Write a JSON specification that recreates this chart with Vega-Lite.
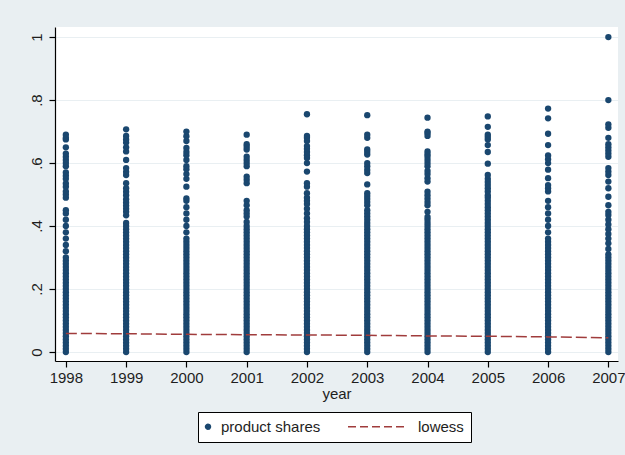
{
  "$schema": "https://vega.github.io/schema/vega-lite/v6.json",
  "width": 563,
  "height": 334,
  "autosize": {"type": "none"},
  "padding": {"left": 55, "top": 27, "right": 7, "bottom": 94},
  "background": "#e9eff2",
  "config": {
    "view": {"fill": "white", "stroke": null},
    "font": "Liberation Sans",
    "axis": {
      "domainColor": "#000000",
      "domainWidth": 1.2,
      "tickColor": "#000000",
      "tickWidth": 1.2,
      "tickSize": 6,
      "labelFont": "Liberation Sans",
      "labelFontSize": 15,
      "labelColor": "#1e1e1e",
      "titleFont": "Liberation Sans",
      "titleFontSize": 15,
      "titleFontWeight": "normal",
      "titleColor": "#1e1e1e"
    }
  },
  "datasets": {
    "shares": [
      {"year":1998,"share":0},{"year":1998,"share":0.01},{"year":1998,"share":0.02},{"year":1998,"share":0.03},{"year":1998,"share":0.04},{"year":1998,"share":0.05},{"year":1998,"share":0.06},{"year":1998,"share":0.07},{"year":1998,"share":0.08},{"year":1998,"share":0.09},{"year":1998,"share":0.1},{"year":1998,"share":0.11},{"year":1998,"share":0.12},{"year":1998,"share":0.13},{"year":1998,"share":0.14},{"year":1998,"share":0.15},{"year":1998,"share":0.16},{"year":1998,"share":0.17},{"year":1998,"share":0.18},{"year":1998,"share":0.19},{"year":1998,"share":0.2},{"year":1998,"share":0.21},{"year":1998,"share":0.22},{"year":1998,"share":0.23},{"year":1998,"share":0.24},{"year":1998,"share":0.25},{"year":1998,"share":0.26},{"year":1998,"share":0.27},{"year":1998,"share":0.28},{"year":1998,"share":0.29},{"year":1998,"share":0.3},
      {"year":1998,"share":0.32},{"year":1998,"share":0.34},{"year":1998,"share":0.36},{"year":1998,"share":0.38},{"year":1998,"share":0.4},{"year":1998,"share":0.42},{"year":1998,"share":0.44},{"year":1998,"share":0.45},
      {"year":1998,"share":0.49},{"year":1998,"share":0.5},{"year":1998,"share":0.51},{"year":1998,"share":0.525},{"year":1998,"share":0.535},{"year":1998,"share":0.55},{"year":1998,"share":0.56},{"year":1998,"share":0.57},{"year":1998,"share":0.59},{"year":1998,"share":0.6},{"year":1998,"share":0.61},{"year":1998,"share":0.62},{"year":1998,"share":0.63},{"year":1998,"share":0.65},{"year":1998,"share":0.675},{"year":1998,"share":0.68},{"year":1998,"share":0.69},

      {"year":1999,"share":0},{"year":1999,"share":0.01},{"year":1999,"share":0.02},{"year":1999,"share":0.03},{"year":1999,"share":0.04},{"year":1999,"share":0.05},{"year":1999,"share":0.06},{"year":1999,"share":0.07},{"year":1999,"share":0.08},{"year":1999,"share":0.09},{"year":1999,"share":0.1},{"year":1999,"share":0.11},{"year":1999,"share":0.12},{"year":1999,"share":0.13},{"year":1999,"share":0.14},{"year":1999,"share":0.15},{"year":1999,"share":0.16},{"year":1999,"share":0.17},{"year":1999,"share":0.18},{"year":1999,"share":0.19},{"year":1999,"share":0.2},{"year":1999,"share":0.21},{"year":1999,"share":0.22},{"year":1999,"share":0.23},{"year":1999,"share":0.24},{"year":1999,"share":0.25},{"year":1999,"share":0.26},{"year":1999,"share":0.27},{"year":1999,"share":0.28},{"year":1999,"share":0.29},{"year":1999,"share":0.3},{"year":1999,"share":0.31},{"year":1999,"share":0.32},{"year":1999,"share":0.33},{"year":1999,"share":0.34},{"year":1999,"share":0.35},{"year":1999,"share":0.36},{"year":1999,"share":0.37},{"year":1999,"share":0.38},{"year":1999,"share":0.39},{"year":1999,"share":0.4},
      {"year":1999,"share":0.41},{"year":1999,"share":0.434},{"year":1999,"share":0.445},{"year":1999,"share":0.455},{"year":1999,"share":0.465},{"year":1999,"share":0.475},{"year":1999,"share":0.485},{"year":1999,"share":0.498},{"year":1999,"share":0.509},{"year":1999,"share":0.52},{"year":1999,"share":0.536},{"year":1999,"share":0.562},{"year":1999,"share":0.572},{"year":1999,"share":0.584},{"year":1999,"share":0.61},{"year":1999,"share":0.637},{"year":1999,"share":0.65},{"year":1999,"share":0.665},{"year":1999,"share":0.675},{"year":1999,"share":0.686},{"year":1999,"share":0.707},

      {"year":2000,"share":0},{"year":2000,"share":0.01},{"year":2000,"share":0.02},{"year":2000,"share":0.03},{"year":2000,"share":0.04},{"year":2000,"share":0.05},{"year":2000,"share":0.06},{"year":2000,"share":0.07},{"year":2000,"share":0.08},{"year":2000,"share":0.09},{"year":2000,"share":0.1},{"year":2000,"share":0.11},{"year":2000,"share":0.12},{"year":2000,"share":0.13},{"year":2000,"share":0.14},{"year":2000,"share":0.15},{"year":2000,"share":0.16},{"year":2000,"share":0.17},{"year":2000,"share":0.18},{"year":2000,"share":0.19},{"year":2000,"share":0.2},{"year":2000,"share":0.21},{"year":2000,"share":0.22},{"year":2000,"share":0.23},{"year":2000,"share":0.24},{"year":2000,"share":0.25},{"year":2000,"share":0.26},{"year":2000,"share":0.27},{"year":2000,"share":0.28},{"year":2000,"share":0.29},{"year":2000,"share":0.3},{"year":2000,"share":0.31},{"year":2000,"share":0.32},{"year":2000,"share":0.33},{"year":2000,"share":0.34},{"year":2000,"share":0.35},{"year":2000,"share":0.36},
      {"year":2000,"share":0.38},{"year":2000,"share":0.4},{"year":2000,"share":0.42},{"year":2000,"share":0.44},{"year":2000,"share":0.46},{"year":2000,"share":0.48},
      {"year":2000,"share":0.488},{"year":2000,"share":0.525},{"year":2000,"share":0.55},{"year":2000,"share":0.565},{"year":2000,"share":0.58},{"year":2000,"share":0.59},{"year":2000,"share":0.61},{"year":2000,"share":0.625},{"year":2000,"share":0.635},{"year":2000,"share":0.648},{"year":2000,"share":0.67},{"year":2000,"share":0.685},{"year":2000,"share":0.7},

      {"year":2001,"share":0},{"year":2001,"share":0.01},{"year":2001,"share":0.02},{"year":2001,"share":0.03},{"year":2001,"share":0.04},{"year":2001,"share":0.05},{"year":2001,"share":0.06},{"year":2001,"share":0.07},{"year":2001,"share":0.08},{"year":2001,"share":0.09},{"year":2001,"share":0.1},{"year":2001,"share":0.11},{"year":2001,"share":0.12},{"year":2001,"share":0.13},{"year":2001,"share":0.14},{"year":2001,"share":0.15},{"year":2001,"share":0.16},{"year":2001,"share":0.17},{"year":2001,"share":0.18},{"year":2001,"share":0.19},{"year":2001,"share":0.2},{"year":2001,"share":0.21},{"year":2001,"share":0.22},{"year":2001,"share":0.23},{"year":2001,"share":0.24},{"year":2001,"share":0.25},{"year":2001,"share":0.26},{"year":2001,"share":0.27},{"year":2001,"share":0.28},{"year":2001,"share":0.29},{"year":2001,"share":0.3},{"year":2001,"share":0.31},{"year":2001,"share":0.32},{"year":2001,"share":0.33},{"year":2001,"share":0.34},{"year":2001,"share":0.35},{"year":2001,"share":0.36},{"year":2001,"share":0.37},{"year":2001,"share":0.38},{"year":2001,"share":0.39},{"year":2001,"share":0.4},
      {"year":2001,"share":0.413},{"year":2001,"share":0.43},{"year":2001,"share":0.44},{"year":2001,"share":0.45},{"year":2001,"share":0.466},{"year":2001,"share":0.48},{"year":2001,"share":0.536},{"year":2001,"share":0.547},{"year":2001,"share":0.557},{"year":2001,"share":0.59},{"year":2001,"share":0.6},{"year":2001,"share":0.61},{"year":2001,"share":0.62},{"year":2001,"share":0.643},{"year":2001,"share":0.652},{"year":2001,"share":0.66},{"year":2001,"share":0.69},

      {"year":2002,"share":0},{"year":2002,"share":0.01},{"year":2002,"share":0.02},{"year":2002,"share":0.03},{"year":2002,"share":0.04},{"year":2002,"share":0.05},{"year":2002,"share":0.06},{"year":2002,"share":0.07},{"year":2002,"share":0.08},{"year":2002,"share":0.09},{"year":2002,"share":0.1},{"year":2002,"share":0.11},{"year":2002,"share":0.12},{"year":2002,"share":0.13},{"year":2002,"share":0.14},{"year":2002,"share":0.15},{"year":2002,"share":0.16},{"year":2002,"share":0.17},{"year":2002,"share":0.18},{"year":2002,"share":0.19},{"year":2002,"share":0.2},{"year":2002,"share":0.21},{"year":2002,"share":0.22},{"year":2002,"share":0.23},{"year":2002,"share":0.24},{"year":2002,"share":0.25},{"year":2002,"share":0.26},{"year":2002,"share":0.27},{"year":2002,"share":0.28},{"year":2002,"share":0.29},{"year":2002,"share":0.3},{"year":2002,"share":0.31},{"year":2002,"share":0.32},{"year":2002,"share":0.33},{"year":2002,"share":0.34},{"year":2002,"share":0.35},{"year":2002,"share":0.36},{"year":2002,"share":0.37},{"year":2002,"share":0.38},{"year":2002,"share":0.39},{"year":2002,"share":0.4},
      {"year":2002,"share":0.413},{"year":2002,"share":0.425},{"year":2002,"share":0.44},{"year":2002,"share":0.455},{"year":2002,"share":0.47},{"year":2002,"share":0.48},{"year":2002,"share":0.49},{"year":2002,"share":0.504},
      {"year":2002,"share":0.525},{"year":2002,"share":0.536},{"year":2002,"share":0.573},{"year":2002,"share":0.6},{"year":2002,"share":0.616},{"year":2002,"share":0.625},{"year":2002,"share":0.635},{"year":2002,"share":0.645},{"year":2002,"share":0.654},{"year":2002,"share":0.67},{"year":2002,"share":0.68},{"year":2002,"share":0.686},{"year":2002,"share":0.755},

      {"year":2003,"share":0},{"year":2003,"share":0.01},{"year":2003,"share":0.02},{"year":2003,"share":0.03},{"year":2003,"share":0.04},{"year":2003,"share":0.05},{"year":2003,"share":0.06},{"year":2003,"share":0.07},{"year":2003,"share":0.08},{"year":2003,"share":0.09},{"year":2003,"share":0.1},{"year":2003,"share":0.11},{"year":2003,"share":0.12},{"year":2003,"share":0.13},{"year":2003,"share":0.14},{"year":2003,"share":0.15},{"year":2003,"share":0.16},{"year":2003,"share":0.17},{"year":2003,"share":0.18},{"year":2003,"share":0.19},{"year":2003,"share":0.2},{"year":2003,"share":0.21},{"year":2003,"share":0.22},{"year":2003,"share":0.23},{"year":2003,"share":0.24},{"year":2003,"share":0.25},{"year":2003,"share":0.26},{"year":2003,"share":0.27},{"year":2003,"share":0.28},{"year":2003,"share":0.29},{"year":2003,"share":0.3},{"year":2003,"share":0.31},{"year":2003,"share":0.32},{"year":2003,"share":0.33},{"year":2003,"share":0.34},{"year":2003,"share":0.35},{"year":2003,"share":0.36},{"year":2003,"share":0.37},{"year":2003,"share":0.38},{"year":2003,"share":0.39},{"year":2003,"share":0.4},{"year":2003,"share":0.41},{"year":2003,"share":0.42},{"year":2003,"share":0.43},{"year":2003,"share":0.44},
      {"year":2003,"share":0.45},{"year":2003,"share":0.466},{"year":2003,"share":0.476},{"year":2003,"share":0.486},{"year":2003,"share":0.495},{"year":2003,"share":0.504},{"year":2003,"share":0.532},{"year":2003,"share":0.568},{"year":2003,"share":0.578},{"year":2003,"share":0.59},{"year":2003,"share":0.6},{"year":2003,"share":0.627},{"year":2003,"share":0.635},{"year":2003,"share":0.643},{"year":2003,"share":0.68},{"year":2003,"share":0.69},{"year":2003,"share":0.752},

      {"year":2004,"share":0},{"year":2004,"share":0.01},{"year":2004,"share":0.02},{"year":2004,"share":0.03},{"year":2004,"share":0.04},{"year":2004,"share":0.05},{"year":2004,"share":0.06},{"year":2004,"share":0.07},{"year":2004,"share":0.08},{"year":2004,"share":0.09},{"year":2004,"share":0.1},{"year":2004,"share":0.11},{"year":2004,"share":0.12},{"year":2004,"share":0.13},{"year":2004,"share":0.14},{"year":2004,"share":0.15},{"year":2004,"share":0.16},{"year":2004,"share":0.17},{"year":2004,"share":0.18},{"year":2004,"share":0.19},{"year":2004,"share":0.2},{"year":2004,"share":0.21},{"year":2004,"share":0.22},{"year":2004,"share":0.23},{"year":2004,"share":0.24},{"year":2004,"share":0.25},{"year":2004,"share":0.26},{"year":2004,"share":0.27},{"year":2004,"share":0.28},{"year":2004,"share":0.29},{"year":2004,"share":0.3},{"year":2004,"share":0.31},{"year":2004,"share":0.32},{"year":2004,"share":0.33},{"year":2004,"share":0.34},{"year":2004,"share":0.35},{"year":2004,"share":0.36},{"year":2004,"share":0.37},{"year":2004,"share":0.38},{"year":2004,"share":0.39},{"year":2004,"share":0.4},{"year":2004,"share":0.41},{"year":2004,"share":0.42},
      {"year":2004,"share":0.429},{"year":2004,"share":0.445},{"year":2004,"share":0.466},{"year":2004,"share":0.476},{"year":2004,"share":0.487},{"year":2004,"share":0.498},{"year":2004,"share":0.509},{"year":2004,"share":0.541},{"year":2004,"share":0.552},{"year":2004,"share":0.565},{"year":2004,"share":0.575},{"year":2004,"share":0.59},{"year":2004,"share":0.6},{"year":2004,"share":0.61},{"year":2004,"share":0.62},{"year":2004,"share":0.628},{"year":2004,"share":0.637},{"year":2004,"share":0.686},{"year":2004,"share":0.695},{"year":2004,"share":0.7},{"year":2004,"share":0.744},

      {"year":2005,"share":0},{"year":2005,"share":0.01},{"year":2005,"share":0.02},{"year":2005,"share":0.03},{"year":2005,"share":0.04},{"year":2005,"share":0.05},{"year":2005,"share":0.06},{"year":2005,"share":0.07},{"year":2005,"share":0.08},{"year":2005,"share":0.09},{"year":2005,"share":0.1},{"year":2005,"share":0.11},{"year":2005,"share":0.12},{"year":2005,"share":0.13},{"year":2005,"share":0.14},{"year":2005,"share":0.15},{"year":2005,"share":0.16},{"year":2005,"share":0.17},{"year":2005,"share":0.18},{"year":2005,"share":0.19},{"year":2005,"share":0.2},{"year":2005,"share":0.21},{"year":2005,"share":0.22},{"year":2005,"share":0.23},{"year":2005,"share":0.24},{"year":2005,"share":0.25},{"year":2005,"share":0.26},{"year":2005,"share":0.27},{"year":2005,"share":0.28},{"year":2005,"share":0.29},{"year":2005,"share":0.3},{"year":2005,"share":0.31},{"year":2005,"share":0.32},{"year":2005,"share":0.33},{"year":2005,"share":0.34},{"year":2005,"share":0.35},{"year":2005,"share":0.36},{"year":2005,"share":0.37},{"year":2005,"share":0.38},{"year":2005,"share":0.39},{"year":2005,"share":0.4},{"year":2005,"share":0.41},{"year":2005,"share":0.42},{"year":2005,"share":0.43},{"year":2005,"share":0.44},{"year":2005,"share":0.45},{"year":2005,"share":0.46},
      {"year":2005,"share":0.47},{"year":2005,"share":0.48},{"year":2005,"share":0.49},{"year":2005,"share":0.498},{"year":2005,"share":0.51},{"year":2005,"share":0.52},{"year":2005,"share":0.53},{"year":2005,"share":0.54},{"year":2005,"share":0.55},{"year":2005,"share":0.562},{"year":2005,"share":0.598},{"year":2005,"share":0.635},{"year":2005,"share":0.657},{"year":2005,"share":0.675},{"year":2005,"share":0.683},{"year":2005,"share":0.69},{"year":2005,"share":0.715},{"year":2005,"share":0.748},

      {"year":2006,"share":0},{"year":2006,"share":0.01},{"year":2006,"share":0.02},{"year":2006,"share":0.03},{"year":2006,"share":0.04},{"year":2006,"share":0.05},{"year":2006,"share":0.06},{"year":2006,"share":0.07},{"year":2006,"share":0.08},{"year":2006,"share":0.09},{"year":2006,"share":0.1},{"year":2006,"share":0.11},{"year":2006,"share":0.12},{"year":2006,"share":0.13},{"year":2006,"share":0.14},{"year":2006,"share":0.15},{"year":2006,"share":0.16},{"year":2006,"share":0.17},{"year":2006,"share":0.18},{"year":2006,"share":0.19},{"year":2006,"share":0.2},{"year":2006,"share":0.21},{"year":2006,"share":0.22},{"year":2006,"share":0.23},{"year":2006,"share":0.24},{"year":2006,"share":0.25},{"year":2006,"share":0.26},{"year":2006,"share":0.27},{"year":2006,"share":0.28},{"year":2006,"share":0.29},{"year":2006,"share":0.3},{"year":2006,"share":0.31},{"year":2006,"share":0.32},{"year":2006,"share":0.33},{"year":2006,"share":0.34},{"year":2006,"share":0.35},{"year":2006,"share":0.36},
      {"year":2006,"share":0.38},{"year":2006,"share":0.4},{"year":2006,"share":0.42},{"year":2006,"share":0.44},{"year":2006,"share":0.46},{"year":2006,"share":0.48},
      {"year":2006,"share":0.51},{"year":2006,"share":0.52},{"year":2006,"share":0.53},{"year":2006,"share":0.552},{"year":2006,"share":0.579},{"year":2006,"share":0.6},{"year":2006,"share":0.612},{"year":2006,"share":0.624},{"year":2006,"share":0.657},{"year":2006,"share":0.693},{"year":2006,"share":0.742},{"year":2006,"share":0.773},

      {"year":2007,"share":0},{"year":2007,"share":0.01},{"year":2007,"share":0.02},{"year":2007,"share":0.03},{"year":2007,"share":0.04},{"year":2007,"share":0.05},{"year":2007,"share":0.06},{"year":2007,"share":0.07},{"year":2007,"share":0.08},{"year":2007,"share":0.09},{"year":2007,"share":0.1},{"year":2007,"share":0.11},{"year":2007,"share":0.12},{"year":2007,"share":0.13},{"year":2007,"share":0.14},{"year":2007,"share":0.15},{"year":2007,"share":0.16},{"year":2007,"share":0.17},{"year":2007,"share":0.18},{"year":2007,"share":0.19},{"year":2007,"share":0.2},{"year":2007,"share":0.21},{"year":2007,"share":0.22},{"year":2007,"share":0.23},{"year":2007,"share":0.24},{"year":2007,"share":0.25},{"year":2007,"share":0.26},{"year":2007,"share":0.27},{"year":2007,"share":0.28},{"year":2007,"share":0.29},{"year":2007,"share":0.3},
      {"year":2007,"share":0.31},{"year":2007,"share":0.327},{"year":2007,"share":0.345},{"year":2007,"share":0.36},{"year":2007,"share":0.375},{"year":2007,"share":0.39},{"year":2007,"share":0.405},{"year":2007,"share":0.42},{"year":2007,"share":0.435},{"year":2007,"share":0.445},
      {"year":2007,"share":0.466},{"year":2007,"share":0.493},{"year":2007,"share":0.52},{"year":2007,"share":0.541},{"year":2007,"share":0.562},{"year":2007,"share":0.573},{"year":2007,"share":0.584},{"year":2007,"share":0.62},{"year":2007,"share":0.63},{"year":2007,"share":0.64},{"year":2007,"share":0.65},{"year":2007,"share":0.66},{"year":2007,"share":0.68},{"year":2007,"share":0.712},{"year":2007,"share":0.723},{"year":2007,"share":0.8},{"year":2007,"share":1.0}
    ],
    "lowess": [
      {"year":1998,"fit":0.059},{"year":1999,"fit":0.058},{"year":2000,"fit":0.056},{"year":2001,"fit":0.055},{"year":2002,"fit":0.054},
      {"year":2003,"fit":0.053},{"year":2004,"fit":0.051},{"year":2005,"fit":0.05},{"year":2006,"fit":0.048},{"year":2007,"fit":0.045}
    ]
  },
  "layer": [
    {
      "data": {"name": "shares"},
      "mark": {"type": "point", "filled": true, "shape": "circle", "size": 40, "opacity": 1},
      "encoding": {
        "x": {
          "field": "year", "type": "quantitative",
          "scale": {"domain": [1997.82, 2007.16], "nice": false, "zero": false},
          "axis": {
            "title": "year", "values": [1998,1999,2000,2001,2002,2003,2004,2005,2006,2007],
            "format": "d", "grid": false, "labelPadding": 3, "titlePadding": 1, "labelFlush": false
          }
        },
        "y": {
          "field": "share", "type": "quantitative",
          "scale": {"domain": [-0.0286, 1.032], "nice": false, "zero": false},
          "axis": {
            "title": null, "values": [0, 0.2, 0.4, 0.6, 0.8, 1],
            "labelExpr": "datum.value == 0 ? '0' : datum.value == 1 ? '1' : replace(format(datum.value, '.1f'), '0.', '.')",
            "labelAngle": -90, "labelAlign": "center", "labelBaseline": "bottom", "labelPadding": 5,
            "grid": true, "gridColor": "#e9eff2", "gridWidth": 1.2
          }
        },
        "color": {
          "datum": "product shares",
          "scale": {"domain": ["product shares", "lowess"], "range": ["#1a476f", "#a03c3c"]}
        }
      }
    },
    {
      "data": {"name": "lowess"},
      "mark": {"type": "line", "strokeWidth": 1.5, "strokeDash": [11, 4]},
      "encoding": {
        "x": {"field": "year", "type": "quantitative"},
        "y": {"field": "fit", "type": "quantitative"},
        "color": {
          "datum": "lowess",
          "legend": {
            "title": null,
            "orient": "none",
            "legendX": 143,
            "legendY": 385,
            "direction": "horizontal",
            "fillColor": "white",
            "strokeColor": "#000000",
            "padding": 7,
            "columnPadding": 24,
            "labelFont": "Liberation Sans",
            "labelFontSize": 15,
            "labelColor": "#1e1e1e",
            "symbolSize": 30,
            "encode": {
              "symbols": {
                "update": {
                  "shape": {"signal": "datum.index == 1 ? 'stroke' : 'circle'"},
                  "size": {"signal": "datum.index == 1 ? 3600 : 24"},
                  "x": {"signal": "datum.index == 1 ? 30 : 3"},
                  "fill": {"signal": "datum.index == 1 ? 'transparent' : '#1a476f'"},
                  "stroke": {"signal": "datum.index == 1 ? '#a03c3c' : 'transparent'"},
                  "strokeWidth": {"value": 1.5},
                  "strokeDash": {"signal": "datum.index == 1 ? [8, 4] : [1, 0]"}
                }
              },
              "labels": {
                "update": {
                  "x": {"signal": "datum.index == 1 ? 70 : 16"}
                }
              }
            }
          }
        }
      }
    }
  ]
}
